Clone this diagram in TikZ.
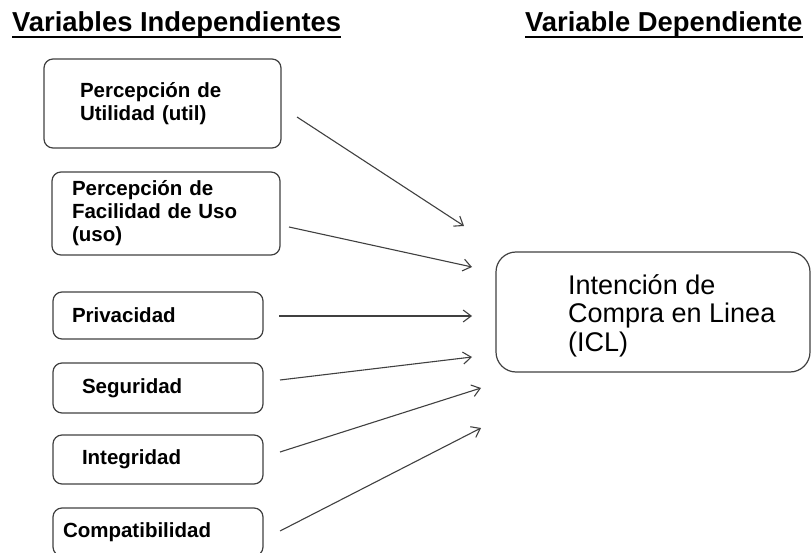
\documentclass[tikz,border=0pt]{standalone}
\usepackage{fontspec}
\setmainfont{Liberation Sans}
\usetikzlibrary{positioning}
\usetikzlibrary{arrows.meta}
\definecolor{linegray}{HTML}{404040}
\tikzset{>={Straight Barb[length=8pt,width=12pt]}}
\tikzset{var/.style={draw=linegray, line width=1.2pt, rounded corners=9pt, align=left, inner sep=0pt, font=\fontsize{20.5}{23}\selectfont\bfseries}}
\tikzset{head/.style={anchor=base west, inner sep=0pt, font=\fontsize{27.4}{30}\selectfont\bfseries}}
\tikzset{arr/.style={->, draw=linegray, line width=1.1pt}}

\begin{document}
\begin{tikzpicture}[x=1pt,y=-1pt]
\useasboundingbox (0,0) rectangle (811,553);
\clip (0,0) rectangle (811,553);

\node[head] (indep) at (12,32) {Variables Independientes};
\node[head] (dep) at (525,32) {Variable Dependiente};
\draw[line width=2pt] ([yshift=-5pt]indep.base west) -- ([yshift=-5pt]indep.base east);
\draw[line width=2pt] ([yshift=-5pt]dep.base west) -- ([yshift=-5pt]dep.base east);

\node[var, minimum width=237pt, minimum height=89pt, text width=165pt] (util) at (162.5,103.5) {Percepción de\\Utilidad (util)};
\node[var, minimum width=228pt, minimum height=83pt, text width=188pt] (uso) at (166,213.5) {Percepción de\\Facilidad de Uso\\(uso)};
\node[var, minimum width=210pt, minimum height=47pt, text width=172pt] (priv) at (158,315.5) {Privacidad};
\node[var, minimum width=210pt, minimum height=50pt, text width=152pt] (seg) at (158,388) {Seguridad};
\node[var, minimum width=210pt, minimum height=49pt, text width=152pt] (integ) at (158,459.5) {Integridad};
\node[var, minimum width=210pt, minimum height=48pt, text width=190pt] (compat) at (158,532) {Compatibilidad};

\node[draw=linegray, line width=1.2pt, rounded corners=20pt, minimum width=314pt, minimum height=120pt] (icl) at (653,312) {};
\node[anchor=north west, align=left, inner sep=0pt, font=\fontsize{27}{28.5}\selectfont] (icltext) at (568,274) {Intención de\\Compra en Linea\\(ICL)};

% puntas libres de las flechas
\coordinate (util-out) at (297,117);
\coordinate (uso-out) at (289,227);
\coordinate (priv-out) at (279,316);
\coordinate (seg-out) at (280,380);
\coordinate (integ-out) at (280,452);
\coordinate (compat-out) at (280,531);

\coordinate (util-in) at (464,226);
\coordinate (uso-in) at (472,267);
\coordinate (priv-in) at (472,316);
\coordinate (seg-in) at (472,357);
\coordinate (integ-in) at (481,388);
\coordinate (compat-in) at (481,428);

\draw[arr] (util-out) -- (util-in);
\draw[arr] (uso-out) -- (uso-in);
\draw[arr] (priv-out) -- (priv-in);
\draw[arr] (seg-out) -- (seg-in);
\draw[arr] (integ-out) -- (integ-in);
\draw[arr] (compat-out) -- (compat-in);
\end{tikzpicture}
\end{document}
